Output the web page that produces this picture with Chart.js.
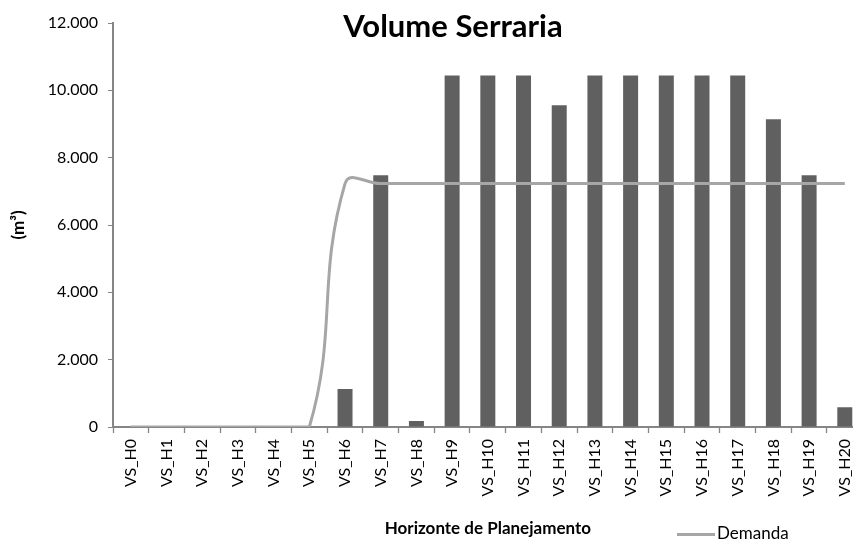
<!DOCTYPE html>
<html>
<head>
<meta charset="utf-8">
<script src="https://cdn.jsdelivr.net/npm/chart.js@4/dist/chart.umd.min.js"></script>
<style>
  html, body { margin: 0; padding: 0; background: #fff; overflow: hidden; }
  #wrap { width: 870px; height: 543px; }
</style>
</head>
<body>
<div id="wrap"><canvas id="c" width="870" height="543"></canvas></div>
<script>
const categories = ['VS_H0','VS_H1','VS_H2','VS_H3','VS_H4','VS_H5','VS_H6','VS_H7','VS_H8','VS_H9','VS_H10',
  'VS_H11','VS_H12','VS_H13','VS_H14','VS_H15','VS_H16','VS_H17','VS_H18','VS_H19','VS_H20'];
const volumeValues = [0, 0, 0, 0, 0, 0, 1130, 7480, 180, 10440, 10440, 10440, 9555, 10440, 10440, 10440, 10440, 10440, 9140, 7480, 590];
const demandValues = [0, 0, 0, 0, 0, 0, 7230, 7230, 7230, 7230, 7230, 7230, 7230, 7230, 7230, 7230, 7230, 7230, 7230, 7230, 7230];
const yTicks = [0, 2000, 4000, 6000, 8000, 10000, 12000];
const chartTitle = 'Volume Serraria';
const xTitle = 'Horizonte de Planejamento';
const yTitle = '(m³)';
const seriesNames = ['Volume', 'Demanda'];

const FONT = 'Lato, "Open Sans", sans-serif';

const fmt = v => String(v).replace(/\B(?=(\d{3})+(?!\d))/g, '.');

const overlay = {
  id: 'overlay',
  afterDraw(chart) {
    const ctx = chart.ctx;
    ctx.save();
    ctx.fillStyle = '#000';
    ctx.font = 'bold 31px ' + FONT;
    ctx.textAlign = 'center';
    ctx.textBaseline = 'alphabetic';
    ctx.fillText(chartTitle, 453, 37);
    // legend for line series
    const ds = chart.data.datasets[1];
    ctx.strokeStyle = ds.borderColor;
    ctx.lineWidth = 3;
    ctx.beginPath();
    ctx.moveTo(677, 534.5);
    ctx.lineTo(715, 534.5);
    ctx.stroke();
    ctx.font = '17px ' + FONT;
    ctx.textAlign = 'left';
    ctx.textBaseline = 'middle';
    ctx.fillStyle = '#000';
    ctx.fillText(ds.label, 717, 534);
    ctx.restore();
  }
};

new Chart(document.getElementById('c'), {
  data: {
    labels: categories,
    datasets: [
      {
        type: 'bar',
        label: seriesNames[0],
        data: volumeValues,
        backgroundColor: '#606060',
        borderWidth: 0,
        categoryPercentage: 1.0,
        barPercentage: 0.42,
        order: 2
      },
      {
        type: 'line',
        label: seriesNames[1],
        data: demandValues,
        borderColor: '#A6A6A6',
        borderWidth: 3,
        pointRadius: 0,
        tension: 0.45,
        fill: false,
        order: 1
      }
    ]
  },
  options: {
    responsive: false,
    animation: false,
    layout: { padding: { top: 23, left: 0, right: 0, bottom: 0 } },
    plugins: {
      legend: { display: false },
      title: { display: false },
      tooltip: { enabled: false }
    },
    scales: {
      x: {
        offset: true,
        grid: { display: true, offset: true, drawOnChartArea: false, drawTicks: true, tickLength: 6, tickColor: '#868686', tickWidth: 1.3 },
        border: { display: true, color: '#868686', width: 2 },
        ticks: {
          autoSkip: false, maxRotation: 90, minRotation: 90, padding: 6,
          color: '#000', font: { family: FONT, size: 16 }
        },
        title: {
          display: true, text: xTitle, color: '#000',
          font: { family: FONT, size: 17, weight: 'bold' },
          padding: { top: 0, bottom: 4 }
        },
        afterFit(scale) { scale.height = 116; }
      },
      y: {
        min: 0, max: 12000,
        afterBuildTicks(scale) { scale.ticks = yTicks.map(v => ({ value: v })); },
        grid: { display: true, drawOnChartArea: false, drawTicks: true, tickLength: 5, tickColor: '#868686', tickWidth: 1 },
        border: { display: true, color: '#868686', width: 2 },
        ticks: {
          padding: 10, color: '#000', font: { family: FONT, size: 16 },
          callback: v => fmt(v)
        },
        title: {
          display: true, text: yTitle, color: '#000',
          font: { family: FONT, size: 17, weight: 'bold' },
          padding: { top: 8, bottom: 0 }
        },
        afterFit(scale) { scale.width = 113; }
      }
    }
  },
  plugins: [overlay]
});
</script>
</body>
</html>
